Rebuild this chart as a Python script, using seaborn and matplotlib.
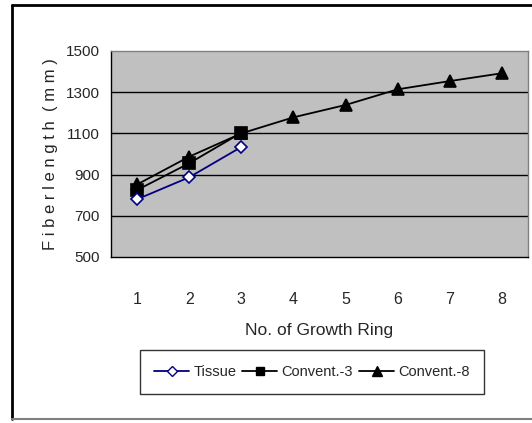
import matplotlib
matplotlib.use('Agg')
import matplotlib.pyplot as plt
import numpy as np
import pandas as pd
import seaborn as sns
from matplotlib.lines import Line2D

rings = [1, 2, 3, 4, 5, 6, 7, 8]
tissue = [780, 887, 1034]
convent3 = [825, 955, 1103]
convent8 = [852, 987, 1100, 1178, 1238, 1314, 1354, 1392]
y_ticks = [500, 700, 900, 1100, 1300, 1500]

df = pd.concat([
    pd.DataFrame({'ring': rings[:3], 'len': tissue, 'series': 'Tissue'}),
    pd.DataFrame({'ring': rings[:3], 'len': convent3, 'series': 'Convent.-3'}),
    pd.DataFrame({'ring': rings, 'len': convent8, 'series': 'Convent.-8'}),
])

sns.set_theme(style='white')
plt.rcParams['font.family'] = ['Liberation Sans', 'DejaVu Sans']

fig = plt.figure(figsize=(5.32, 4.23), dpi=100)
ax = fig.add_axes([111 / 532, 1 - 257 / 423, 417 / 532, 206 / 423])
ax.set_facecolor('#c0c0c0')

pal = {'Tissue': '#000080', 'Convent.-3': 'black', 'Convent.-8': 'black'}
mk = {'Tissue': 'D', 'Convent.-3': 's', 'Convent.-8': '^'}
for name in ['Convent.-8', 'Convent.-3', 'Tissue']:
    sub = df[df['series'] == name]
    face = 'white' if name == 'Tissue' else 'black'
    sns.lineplot(data=sub, x='ring', y='len', ax=ax, color=pal[name], lw=1.3,
                 marker=mk[name], markersize=8 if name != 'Tissue' else 6.5,
                 markerfacecolor=face, markeredgecolor=pal[name], markeredgewidth=1.2,
                 legend=False, zorder=3)

ax.set_xlim(0.5, 8.5)
ax.set_ylim(500, 1500)
ax.set_yticks(y_ticks)
ax.set_yticklabels([str(v) for v in y_ticks], fontsize=11)
for v in y_ticks[1:-1]:
    ax.axhline(v, color='black', lw=1, zorder=1)

ax.set_xticks(rings)
ax.set_xticklabels([str(r) for r in rings], fontsize=11.5)
ax.set_xticks(np.arange(0.5, 8.6, 1), minor=True)
ax.tick_params(axis='x', which='major', length=0, pad=25)
ax.tick_params(axis='x', which='minor', length=5, width=1, color='black', direction='out')
ax.tick_params(axis='y', length=5, width=1, color='black', direction='out', pad=3)

for s in ['top', 'right']:
    ax.spines[s].set_color('#808080')
    ax.spines[s].set_linewidth(1)
for s in ['left', 'bottom']:
    ax.spines[s].set_color('black')
    ax.spines[s].set_linewidth(1)

ax.set_xlabel('No. of Growth Ring', fontsize=12.5, labelpad=12)
ax.set_ylabel('F i b e r l e n g t h  ( m m )', fontsize=12, labelpad=6)

handles = [
    Line2D([], [], color='#000080', marker='D', markerfacecolor='white', markersize=5.5, lw=1.3),
    Line2D([], [], color='black', marker='s', markersize=5.5, lw=1.3),
    Line2D([], [], color='black', marker='^', markersize=6.5, lw=1.3),
]
leg = fig.legend(handles, ['Tissue', 'Convent.-3', 'Convent.-8'], ncol=3,
                 loc='center', bbox_to_anchor=(312 / 532, 1 - 372 / 423),
                 fontsize=10.5, frameon=True, fancybox=False, handlelength=2.4,
                 handletextpad=0.3, columnspacing=0.4, borderpad=1.0, borderaxespad=0)
leg.get_frame().set_edgecolor('black')
leg.get_frame().set_linewidth(1)

# chart border
fig.add_artist(Line2D([12 / 532, 12 / 532], [1 - 5 / 423, 1 - 419 / 423], color='black', lw=2))
fig.add_artist(Line2D([12 / 532, 1], [1 - 5 / 423, 1 - 5 / 423], color='black', lw=2))
fig.add_artist(Line2D([12 / 532, 1], [1 - 419 / 423, 1 - 419 / 423], color='#808080', lw=1.5))

fig.savefig('out.png', dpi=100)
